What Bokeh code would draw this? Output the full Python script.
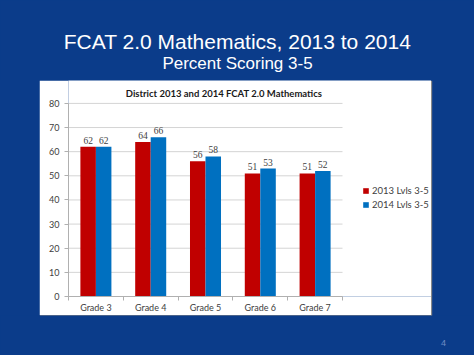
import numpy as np
from bokeh.plotting import figure
from bokeh.layouts import column, row
from bokeh.models import (ColumnDataSource, Range1d, FixedTicker, Label, LabelSet,
                          Legend, LegendItem, Spacer)
from bokeh.transform import dodge
from bokeh.embed import file_html
from bokeh.resources import INLINE

grades = ["Grade 3", "Grade 4", "Grade 5", "Grade 6", "Grade 7"]
lvl_2013 = [62, 64, 56, 51, 51]
lvl_2014 = [62, 66, 58, 53, 52]
series_names = ["2013 Lvls 3-5", "2014 Lvls 3-5"]
y_ticks = [0, 10, 20, 30, 40, 50, 60, 70, 80]
chart_title = "District 2013 and 2014 FCAT 2.0 Mathematics"

BG = "#0b3c8a"
RED = "#c00000"
BLUE = "#0070c0"
CHART_FONT = "Lato"
SLIDE_FONT = "Liberation Sans"


def blank(width, height):
    f = figure(width=width, height=height, output_backend="svg", toolbar_location=None,
               x_range=Range1d(0, width), y_range=Range1d(height, 0),
               x_axis_location=None, y_axis_location=None,
               min_border=0, min_border_left=0, min_border_right=0,
               min_border_top=0, min_border_bottom=0)
    f.grid.visible = False
    f.border_fill_color = BG
    f.background_fill_color = BG
    f.outline_line_color = None
    return f


# ---- header ----
head = blank(474, 80)
head.add_layout(Label(x=237, y=41, text="FCAT 2.0 Mathematics, 2013 to 2014",
                      text_align="center", text_baseline="alphabetic",
                      text_font=SLIDE_FONT, text_font_size="21px", text_color="white"))
head.add_layout(Label(x=237, y=63, text="Percent Scoring 3-5",
                      text_align="center", text_baseline="alphabetic",
                      text_font=SLIDE_FONT, text_font_size="17px", text_color="white"))

# ---- chart ----
n = len(grades)
ymax = y_ticks[-1]
idx = np.arange(n) + 0.5
src = ColumnDataSource(dict(x=idx, a=lvl_2013, b=lvl_2014,
                            la=[str(v) for v in lvl_2013],
                            lb=[str(v) for v in lvl_2014]))
grid_src = ColumnDataSource(dict(y=y_ticks[1:], x0=[0] * (len(y_ticks) - 1),
                                 x1=[n] * (len(y_ticks) - 1)))

# plot area: 274 x 194 px; frame extends to the box's top and right edges
p = figure(width=392, height=235, output_backend="svg", toolbar_location=None,
           x_range=Range1d(0, n * 363 / 274), y_range=Range1d(0, ymax * 217 / 194),
           min_border_left=29, min_border_right=0, min_border_top=0,
           min_border_bottom=18,
           styles={"box-shadow": "1px 1px 1px #8a8a8a"})
p.border_fill_color = "white"
p.background_fill_color = "white"
p.outline_line_color = None

p.add_layout(Label(x=n * 155.5 / 274, y=ymax * 204 / 194, text=chart_title,
                   text_align="center", text_baseline="alphabetic",
                   text_font=CHART_FONT, text_font_size="9.5px", text_font_style="bold",
                   text_color="#1a1a1a"))

p.grid.visible = False
p.segment(x0="x0", x1="x1", y0="y", y1="y", source=grid_src,
          line_color="#d4d4d4", line_width=1)

w = 0.283
r1 = p.vbar(x=dodge("x", -w / 2), top="a", width=w, source=src, fill_color=RED, line_color=None)
r2 = p.vbar(x=dodge("x", w / 2), top="b", width=w, source=src, fill_color=BLUE, line_color=None)

for col, lab, off in [("a", "la", -w / 2), ("b", "lb", w / 2)]:
    ls = LabelSet(x=dodge("x", off), y=col, text=lab, source=src, y_offset=3,
                  text_align="center", text_baseline="bottom",
                  text_font=CHART_FONT, text_font_size="9.5px", text_color="#404040")
    p.add_layout(ls)

p.yaxis.ticker = FixedTicker(ticks=y_ticks)
p.yaxis.bounds = (0, ymax)
p.xaxis.ticker = FixedTicker(ticks=list(idx), minor_ticks=list(range(n + 1)))
p.xaxis.major_label_overrides = {float(v): g for v, g in zip(idx, grades)}
p.xaxis.bounds = (0, n)
for ax in (p.xaxis[0], p.yaxis[0]):
    ax.axis_line_color = "#b0b0b0"
    ax.major_label_text_font = CHART_FONT
    ax.major_label_text_font_size = "9px"
    ax.major_label_text_color = "#404040"
p.xaxis.major_tick_line_color = None
p.xaxis.major_tick_out = 0
p.xaxis.major_tick_in = 0
p.xaxis.minor_tick_line_color = "#b0b0b0"
p.xaxis.minor_tick_out = 4
p.xaxis.minor_tick_in = 0
p.xaxis.major_label_standoff = 1
p.yaxis.major_tick_line_color = "#b0b0b0"
p.yaxis.major_tick_out = 4
p.yaxis.major_tick_in = 0
p.yaxis.minor_tick_line_color = None
p.yaxis.major_label_standoff = 5

legend = Legend(items=[LegendItem(label=series_names[0], renderers=[r1]),
                       LegendItem(label=series_names[1], renderers=[r2])],
                location=(294, 86), orientation="vertical",
                glyph_width=7, glyph_height=7, label_standoff=3, spacing=3,
                padding=0, margin=0, border_line_color=None,
                background_fill_alpha=0, label_text_font=CHART_FONT,
                label_text_font_size="9.5px", label_text_color="#404040",
                label_height=9)
p.add_layout(legend)

mid = row(Spacer(width=39, height=235), p, Spacer(width=43, height=235))

# ---- footer ----
foot = blank(474, 40)
foot.add_layout(Label(x=443, y=27, text="4", text_align="center",
                      text_baseline="alphabetic", text_font=SLIDE_FONT,
                      text_font_size="9px", text_color="#6f8cc4"))

page = column(head, mid, foot, styles={"background-color": BG})

open("out.html", "w").write(file_html(page, INLINE))
